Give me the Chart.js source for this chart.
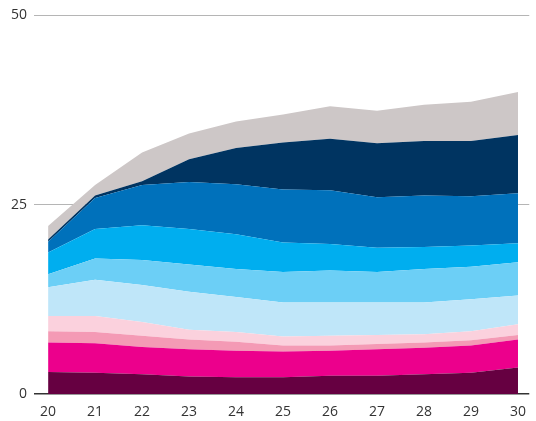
<!DOCTYPE html>
<html>
<head>
<meta charset="utf-8">
<script src="https://cdn.jsdelivr.net/npm/chart.js@4"></script>
<style>
html,body{margin:0;padding:0;background:#fff;}
#wrap{width:536px;height:421px;position:relative;}
</style>
</head>
<body>
<div id="wrap"><canvas id="c" width="536" height="421"></canvas></div>
<script>
const years = [20, 21, 22, 23, 24, 25, 26, 27, 28, 29, 30];
const yTicks = [0, 25, 50];

const s1  = [2.9, 2.8, 2.6, 2.3, 2.2, 2.2, 2.4, 2.4, 2.6, 2.8, 3.5];
const s2  = [3.9, 3.9, 3.6, 3.6, 3.5, 3.4, 3.3, 3.5, 3.5, 3.6, 3.7];
const s3  = [1.5, 1.5, 1.5, 1.3, 1.2, 0.8, 0.7, 0.7, 0.7, 0.7, 0.6];
const s4  = [2.0, 2.1, 1.8, 1.3, 1.3, 1.2, 1.3, 1.2, 1.1, 1.2, 1.4];
const s5  = [3.8, 4.8, 4.9, 5.0, 4.6, 4.5, 4.4, 4.3, 4.2, 4.2, 3.8];
const s6  = [1.7, 2.8, 3.3, 3.6, 3.7, 4.0, 4.2, 4.0, 4.4, 4.3, 4.4];
const s7  = [2.9, 3.9, 4.6, 4.7, 4.6, 3.9, 3.5, 3.2, 2.9, 2.8, 2.5];
const s8  = [1.4, 4.1, 5.3, 6.2, 6.6, 7.0, 7.1, 6.7, 6.8, 6.5, 6.6];
const s9  = [0.3, 0.3, 0.5, 3.0, 4.8, 6.2, 6.8, 7.1, 7.2, 7.3, 7.7];
const s10 = [1.8, 1.4, 3.8, 3.4, 3.5, 3.7, 4.3, 4.3, 4.8, 5.2, 5.7];

const series = [s1, s2, s3, s4, s5, s6, s7, s8, s9, s10];
const colors = ['#660041', '#ec008c', '#f49ab5', '#fbd1dd', '#bfe6f9', '#6ccff6', '#00aeef', '#0071bb', '#003461', '#cdc7c7'];

const datasets = series.map((d, i) => ({
  data: d,
  backgroundColor: colors[i],
  borderColor: colors[i],
  borderWidth: 0,
  pointRadius: 0,
  tension: 0,
  fill: i === 0 ? 'origin' : '-1'
}));

new Chart(document.getElementById('c'), {
  type: 'line',
  data: { labels: years, datasets },
  options: {
    responsive: false,
    animation: false,
    layout: { padding: { top: 14, right: 0, left: 0, bottom: 0 } },
    plugins: { legend: { display: false }, tooltip: { enabled: false } },
    scales: {
      x: {
        type: 'linear',
        min: 19.7,
        max: 30.24,
        grid: { display: false, drawTicks: false },
        border: { display: false },
        afterBuildTicks: s => { s.ticks = years.map(v => ({ value: v })); },
        afterFit: s => { s.height = 27; },
        ticks: {
          padding: 10,
          color: '#333',
          font: { family: 'Open Sans', size: 14 },
          maxRotation: 0,
          autoSkip: false
        }
      },
      y: {
        stacked: true,
        min: 0,
        max: 50,
        afterBuildTicks: s => { s.ticks = yTicks.map(v => ({ value: v })); },
        afterFit: s => { s.width = 34; },
        border: { display: false },
        grid: {
          drawTicks: false,
          color: c => c.tick && c.tick.value === 0 ? '#333' : '#b5b5b5',
          lineWidth: c => c.tick && c.tick.value === 0 ? 1.6 : 1
        },
        ticks: {
          padding: 7,
          color: '#333',
          font: { family: 'Open Sans', size: 14 }
        }
      }
    }
  }
});
</script>
</body>
</html>
